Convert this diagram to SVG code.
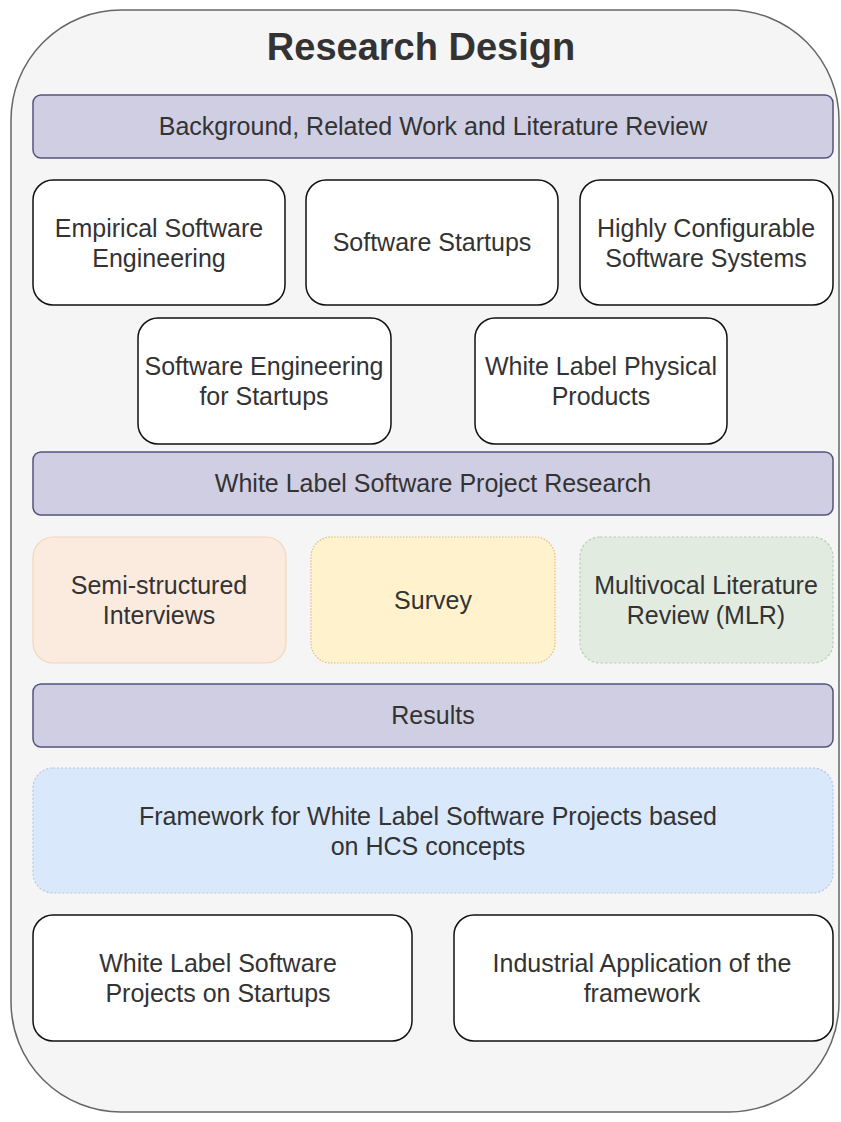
<svg xmlns="http://www.w3.org/2000/svg" width="841" height="1122" viewBox="0 0 841 1122">
<style>
text{font-family:"Liberation Sans",Arial,sans-serif;fill:#333333;text-anchor:middle;font-size:25px}
.title{font-size:38px;font-weight:bold}
.bar{fill:#d0cee2;stroke:#56517e;stroke-width:1.5}
.box{fill:#ffffff;stroke:#111111;stroke-width:1.5}
</style>
<rect width="841" height="1122" fill="#ffffff"/>
<g id="container">
<rect x="11" y="10" width="828" height="1102" rx="110" ry="110" fill="#f5f5f5" stroke="#666666" stroke-width="1.5"/>
<text class="title" x="421" y="60">Research Design</text>
</g>
<g id="bar-background">
<rect class="bar" x="33" y="95" width="800" height="63" rx="8"/>
<text x="433" y="135">Background, Related Work and Literature Review</text>
</g>
<g id="node-ese">
<rect class="box" x="33" y="180" width="252" height="125" rx="20"/>
<text x="159" y="237">Empirical Software</text>
<text x="159" y="267">Engineering</text>
</g>
<g id="node-startups">
<rect class="box" x="306" y="180" width="252" height="125" rx="20"/>
<text x="432" y="251">Software Startups</text>
</g>
<g id="node-hcs">
<rect class="box" x="580" y="180" width="253" height="125" rx="20"/>
<text x="706" y="237">Highly Configurable</text>
<text x="706" y="267">Software Systems</text>
</g>
<g id="node-sefs">
<rect class="box" x="138" y="318" width="253" height="126" rx="20"/>
<text x="264" y="375">Software Engineering</text>
<text x="264" y="405">for Startups</text>
</g>
<g id="node-wlpp">
<rect class="box" x="475" y="318" width="252" height="126" rx="20"/>
<text x="601" y="375">White Label Physical</text>
<text x="601" y="405">Products</text>
</g>
<g id="bar-wlspr">
<rect class="bar" x="33" y="452" width="800" height="63" rx="8"/>
<text x="433" y="492">White Label Software Project Research</text>
</g>
<g id="node-interviews">
<rect x="33" y="537" width="253" height="126" rx="20" fill="#fbeade" stroke="#f3d6b8" stroke-width="1.2"/>
<text x="159" y="594">Semi-structured</text>
<text x="159" y="624">Interviews</text>
</g>
<g id="node-survey">
<rect x="311" y="537" width="244" height="126" rx="20" fill="#fff2cc" stroke="#dcc27a" stroke-width="1.2" stroke-dasharray="1.5 1.5"/>
<text x="433" y="609">Survey</text>
</g>
<g id="node-mlr">
<rect x="580" y="537" width="253" height="126" rx="20" fill="#e2ebe0" stroke="#b9cdb4" stroke-width="1.2" stroke-dasharray="2.5 2"/>
<text x="706" y="594">Multivocal Literature</text>
<text x="706" y="624">Review (MLR)</text>
</g>
<g id="bar-results">
<rect class="bar" x="33" y="684" width="800" height="63" rx="8"/>
<text x="433" y="724">Results</text>
</g>
<g id="node-framework">
<rect x="33" y="768" width="800" height="125" rx="20" fill="#dae8fc" stroke="#b4c6df" stroke-width="1.2" stroke-dasharray="2 2"/>
<text x="428" y="825">Framework for White Label Software Projects based</text>
<text x="428" y="855">on HCS concepts</text>
</g>
<g id="node-wls-startups">
<rect class="box" x="33" y="915" width="379" height="126" rx="20"/>
<text x="218" y="972">White Label Software</text>
<text x="218" y="1002">Projects on Startups</text>
</g>
<g id="node-industrial">
<rect class="box" x="454" y="915" width="379" height="126" rx="20"/>
<text x="642" y="972">Industrial Application of the</text>
<text x="642" y="1002">framework</text>
</g>
<g id="connectors"></g>
</svg>
